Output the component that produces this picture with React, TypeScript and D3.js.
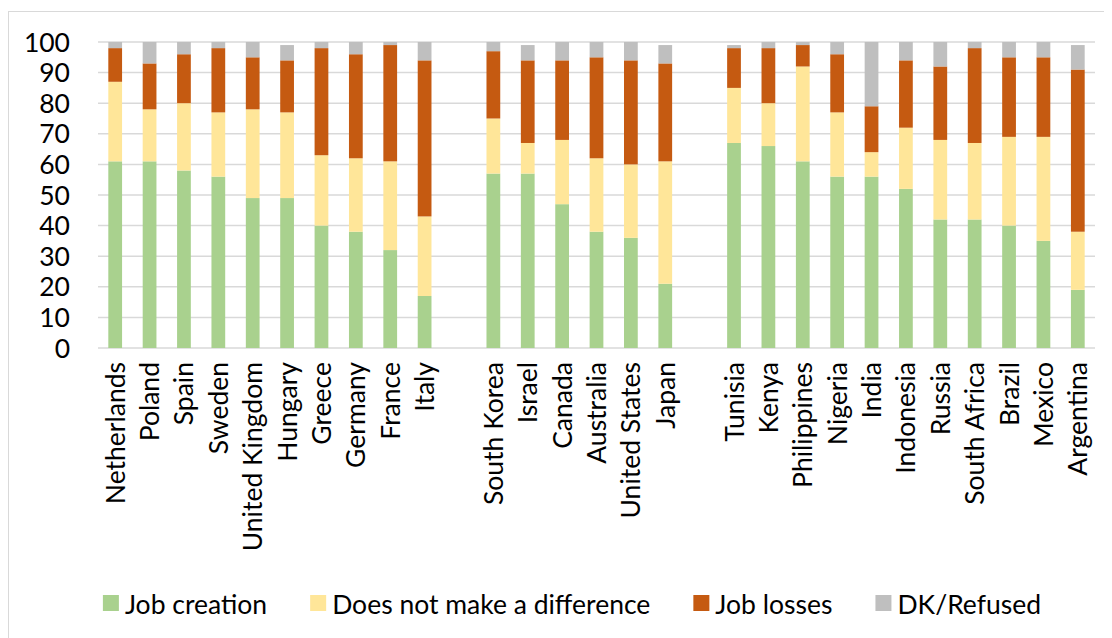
import * as React from "react";
import { useEffect, useRef } from "react";
import * as d3 from "d3";

// countries in display order, split in three groups
const countries = [
  "Netherlands", "Poland", "Spain", "Sweden", "United Kingdom", "Hungary", "Greece", "Germany", "France", "Italy",
  "South Korea", "Israel", "Canada", "Australia", "United States", "Japan",
  "Tunisia", "Kenya", "Philippines", "Nigeria", "India", "Indonesia", "Russia", "South Africa", "Brazil", "Mexico", "Argentina",
];
const groupSizes = [10, 6, 11];

const jobCreation = [61, 61, 58, 56, 49, 49, 40, 38, 32, 17, 57, 57, 47, 38, 36, 21, 67, 66, 61, 56, 56, 52, 42, 42, 40, 35, 19];
const noDifference = [26, 17, 22, 21, 29, 28, 23, 24, 29, 26, 18, 10, 21, 24, 24, 40, 18, 14, 31, 21, 8, 20, 26, 25, 29, 34, 19];
const jobLosses = [11, 15, 16, 21, 17, 17, 35, 34, 38, 51, 22, 27, 26, 33, 34, 32, 13, 18, 7, 19, 15, 22, 24, 31, 26, 26, 53];
const dkRefused = [2, 7, 4, 2, 5, 5, 2, 4, 1, 6, 3, 5, 6, 5, 6, 6, 1, 2, 1, 4, 21, 6, 8, 2, 5, 5, 8];

const seriesNames = ["Job creation", "Does not make a difference", "Job losses", "DK/Refused"];
const seriesColors = ["#a9d18e", "#ffe699", "#c55a11", "#bfbfbf"];
const yTicks = [0, 10, 20, 30, 40, 50, 60, 70, 80, 90, 100];

const W = 1104;
const H = 630;
const FONT = "Lato, 'Open Sans', sans-serif";

export default function App() {
  const ref = useRef<SVGSVGElement>(null);

  useEffect(() => {
    const svg = d3.select(ref.current);
    svg.selectAll("*").remove();

    const margin = { top: 34, left: 90, right: 17, bottom: 290 };
    const plotH = H - margin.top - margin.bottom;

    // slots: countries plus one empty slot between groups
    const slots: string[] = [];
    let k = 0;
    groupSizes.forEach((n, gi) => {
      if (gi > 0) slots.push("gap" + gi);
      for (let i = 0; i < n; i++) slots.push(countries[k++]);
    });

    const x = d3.scaleBand<string>()
      .domain(slots)
      .range([margin.left, W - margin.right])
      .paddingInner(0.6)
      .paddingOuter(0.3);
    const y = d3.scaleLinear().domain([0, 100]).range([margin.top + plotH, margin.top]);

    const rows = countries.map((c, i) => ({
      country: c,
      s0: jobCreation[i], s1: noDifference[i], s2: jobLosses[i], s3: dkRefused[i],
    }));
    const stack = d3.stack<any>().keys(["s0", "s1", "s2", "s3"]);
    const layers = stack(rows);

    // chart border
    svg.append("rect")
      .attr("x", 0.5).attr("y", 3.5)
      .attr("width", W + 40).attr("height", H + 40)
      .attr("fill", "white")
      .attr("stroke", "#d9d9d9").attr("stroke-width", 1);

    // gridlines
    svg.append("g").selectAll("line")
      .data(yTicks)
      .join("line")
      .attr("x1", margin.left).attr("x2", W - margin.right)
      .attr("y1", d => y(d)).attr("y2", d => y(d))
      .attr("stroke", "#d9d9d9").attr("stroke-width", 1.5);

    // y tick labels
    svg.append("g").selectAll("text")
      .data(yTicks)
      .join("text")
      .attr("x", margin.left - 28)
      .attr("y", d => y(d))
      .attr("dy", "0.36em")
      .attr("text-anchor", "end")
      .attr("font-family", FONT)
      .attr("font-size", 26.5)
      .attr("fill", "#000")
      .text(d => d);

    // bars
    svg.append("g").selectAll("g")
      .data(layers)
      .join("g")
      .attr("fill", (_d, i) => seriesColors[i])
      .selectAll("rect")
      .data(d => d)
      .join("rect")
      .attr("x", d => x(d.data.country)!)
      .attr("width", x.bandwidth())
      .attr("y", d => y(d[1]))
      .attr("height", d => y(d[0]) - y(d[1]));

    // category labels
    svg.append("g").selectAll("text")
      .data(countries)
      .join("text")
      .attr("transform", d => `translate(${x(d)! + x.bandwidth() / 2},${y(0) + 14}) rotate(-90)`)
      .attr("dy", "0.36em")
      .attr("text-anchor", "end")
      .attr("font-family", FONT)
      .attr("font-size", 26.5)
      .attr("fill", "#000")
      .text(d => d);

    // legend
    const legend = svg.append("g");
    const items = legend.selectAll("g")
      .data(seriesNames)
      .join("g");
    items.append("rect")
      .attr("width", 16).attr("height", 16)
      .attr("y", 587)
      .attr("fill", (_d, i) => seriesColors[i]);
    const texts = items.append("text")
      .attr("x", 22)
      .attr("y", 596)
      .attr("dy", "0.36em")
      .attr("font-family", FONT)
      .attr("font-size", 26.5)
      .attr("fill", "#000")
      .text(d => d);
    const widths: number[] = [];
    texts.each(function () { widths.push((this as SVGTextElement).getComputedTextLength()); });
    const gap = 43;
    const total = widths.reduce((a, w) => a + 22 + w, 0) + gap * (widths.length - 1);
    let cx = 564 - total / 2;
    items.each(function (_d, i) {
      d3.select(this).attr("transform", `translate(${cx},0)`);
      cx += 22 + widths[i] + gap;
    });
  }, []);

  return <svg ref={ref} width={W} height={H} style={{ display: "block" }} />;
}
